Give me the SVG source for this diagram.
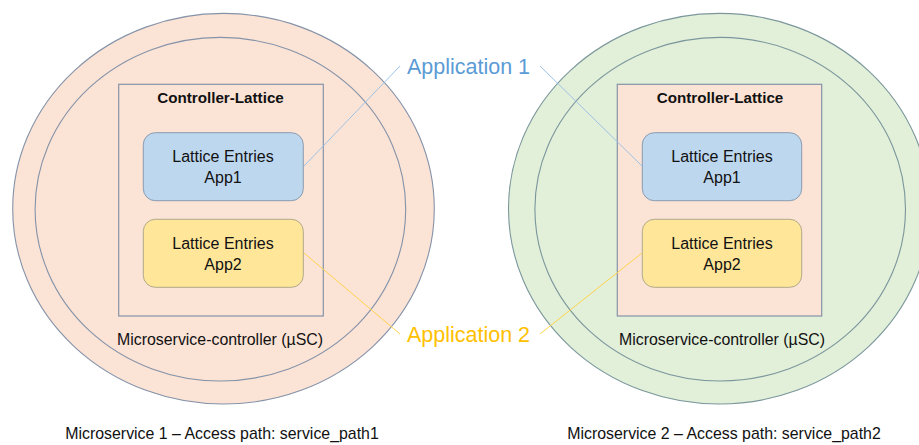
<svg xmlns="http://www.w3.org/2000/svg" width="919" height="445" viewBox="0 0 919 445">
<style>
  text { font-family: "Liberation Sans", Arial, sans-serif; fill: #111; }
  .peach { fill: #FBE3D6; stroke: #8593A8; stroke-width: 1.1; }
  .green { fill: #E2EFD9; stroke: #7B979C; stroke-width: 1.1; }
  .lattice { fill: #FBE3D6; stroke: #8593A8; stroke-width: 1.2; }
  .blue { fill: #BDD7EE; stroke: #8A9CB0; stroke-width: 1; }
  .yellow { fill: #FFE699; stroke: #B0A98A; stroke-width: 1; }
  .title { font-size: 15.2px; font-weight: bold; text-anchor: middle; }
  .entry { font-size: 16px; text-anchor: middle; }
  .usc { font-size: 15.9px; text-anchor: middle; }
  .caption { font-size: 15.9px; text-anchor: middle; }
  .app1 { font-size: 21.5px; fill: #5B9BD5; text-anchor: middle; }
  .app2 { font-size: 21.5px; fill: #FFC000; text-anchor: middle; }
  .c1 { stroke: #9DC3E6; stroke-width: 1; fill: none; }
  .c2 { stroke: #FFD34D; stroke-width: 1; fill: none; }
</style>

<g id="microservice1">
  <ellipse class="peach" cx="223.5" cy="208.7" rx="210.8" ry="195.3"/>
  <ellipse class="peach" cx="220.4" cy="209.2" rx="185.3" ry="171.8"/>
  <text class="usc" x="220" y="345">Microservice-controller (µSC)</text>
  <text class="caption" x="222" y="439">Microservice 1 – Access path: service_path1</text>
</g>
<g id="lattice1">
  <rect class="lattice" x="118.7" y="84.3" width="204.6" height="231.7"/>
  <text class="title" x="220.5" y="103">Controller-Lattice</text>
</g>
<g id="entry1-app1">
  <rect class="blue" x="143.3" y="132.7" width="160" height="68" rx="12"/>
  <text class="entry" x="223" y="162">Lattice Entries</text>
  <text class="entry" x="223" y="183">App1</text>
</g>
<g id="entry1-app2">
  <rect class="yellow" x="143.3" y="219.3" width="160" height="68" rx="12"/>
  <text class="entry" x="223" y="248.5">Lattice Entries</text>
  <text class="entry" x="223" y="269.5">App2</text>
</g>

<g id="microservice2">
  <ellipse class="green" cx="719.3" cy="208.7" rx="210.8" ry="195.3"/>
  <ellipse class="green" cx="720.2" cy="209.2" rx="185.3" ry="171.8"/>
  <text class="usc" x="722" y="345">Microservice-controller (µSC)</text>
  <text class="caption" x="724" y="439">Microservice 2 – Access path: service_path2</text>
</g>
<g id="lattice2">
  <rect class="lattice" x="617.3" y="84.3" width="204.4" height="231.7"/>
  <text class="title" x="720" y="103">Controller-Lattice</text>
</g>
<g id="entry2-app1">
  <rect class="blue" x="642.3" y="132.7" width="159.4" height="68" rx="12"/>
  <text class="entry" x="722" y="162">Lattice Entries</text>
  <text class="entry" x="722" y="183">App1</text>
</g>
<g id="entry2-app2">
  <rect class="yellow" x="642.3" y="219.3" width="159.4" height="68" rx="12"/>
  <text class="entry" x="722" y="248.5">Lattice Entries</text>
  <text class="entry" x="722" y="269.5">App2</text>
</g>

<g id="connectors">
  <line class="c1" x1="400" y1="66" x2="304" y2="166"/>
  <line class="c1" x1="540" y1="66" x2="642" y2="166"/>
  <line class="c2" x1="304" y1="253" x2="400" y2="334"/>
  <line class="c2" x1="540" y1="334" x2="642" y2="253"/>
</g>

<g id="application1">
  <text class="app1" x="468.5" y="74">Application 1</text>
</g>
<g id="application2">
  <text class="app2" x="468.5" y="341.5">Application 2</text>
</g>
</svg>
